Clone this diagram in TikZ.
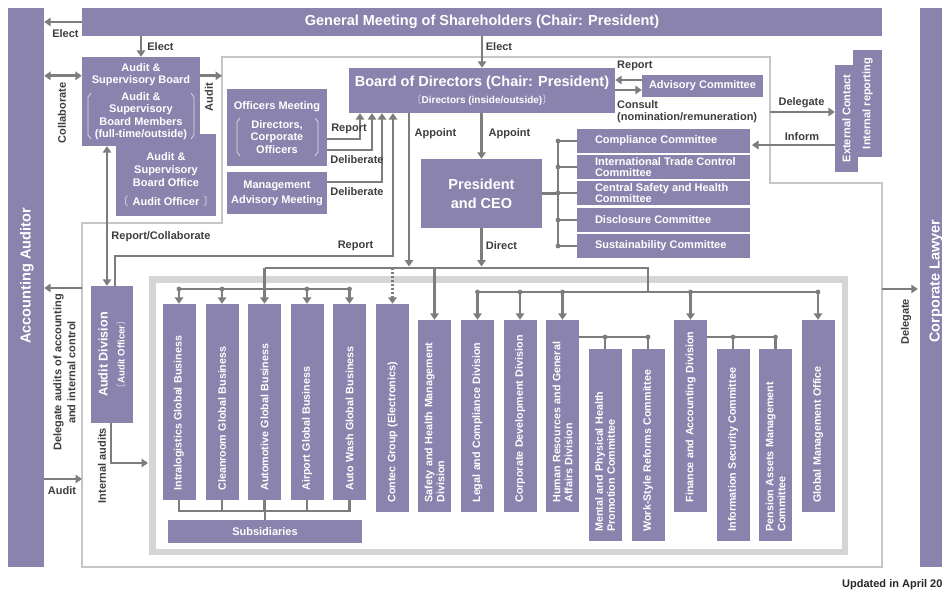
\documentclass[tikz,border=0pt]{standalone}
\usepackage{fontspec}
\setmainfont{Liberation Sans}
\newfontfamily\cjk{Noto Sans CJK JP}
\usepackage{tikz}
\usetikzlibrary{arrows.meta,positioning}

\definecolor{orgpurple}{RGB}{138,131,173}
\definecolor{lngray}{RGB}{125,125,125}
\definecolor{framegray}{RGB}{198,198,198}
\definecolor{bandgray}{RGB}{212,214,214}
\definecolor{lbltext}{RGB}{62,62,62}
\definecolor{brkwhite}{RGB}{224,221,236}

\newcommand{\hdfont}{\bfseries\fontsize{14.5}{16}\selectfont}
\newcommand{\obrk}{{\cjk\mdseries\color{brkwhite}〔}}
\newcommand{\cbrk}{{\cjk\mdseries\color{brkwhite}〕}}
% tall brackets round a block of lines: x left, x right, y top, y bottom
\newcommand{\tallbrk}[4]{%
  \draw[brk] (#1+3,#3) -- (#1,#3+4) -- (#1,#4-4) -- (#1+3,#4);
  \draw[brk] (#2-3,#3) -- (#2,#3+4) -- (#2,#4-4) -- (#2-3,#4);}

\tikzset{
  pbox/.style={fill=orgpurple,text=white,font=\bfseries\fontsize{11}{12.5}\selectfont,align=center,inner sep=0pt},
  vbox/.style={pbox,rotate=90,align=left,font=\bfseries\fontsize{10.7}{12}\selectfont,minimum height=33},
  conn/.style={draw=lngray,line width=2.7pt},
  arr/.style={conn,-{Triangle[length=6.5pt,width=8.5pt]}},
  darr/.style={conn,{Triangle[length=6.5pt,width=8.5pt]}-{Triangle[length=6.5pt,width=8.5pt]}},
  dotarr/.style={arr,line width=2.2pt,dash pattern=on 2pt off 2pt},
  lbl/.style={text=lbltext,font=\bfseries\fontsize{11}{12}\selectfont,align=center,inner sep=0pt},
  brk/.style={draw=brkwhite,line width=0.7pt},
  thinframe/.style={draw=framegray,line width=1.3pt},
  band/.style={draw=bandgray,line width=6.5pt},
}

\begin{document}
\begin{tikzpicture}[x=1pt,y=-1pt]
  \fill[white] (0,0) rectangle (942,591);
  \useasboundingbox (0,0) rectangle (942,591);

  % executive area and business band
  \coordinate (fa) at (222,57);  \coordinate (fb) at (770,57);
  \coordinate (fc) at (770,183); \coordinate (fd) at (882,183);
  \coordinate (fe) at (882,567); \coordinate (ff) at (82,567);
  \coordinate (fg) at (82,223);  \coordinate (fh) at (222,223);
  \draw[thinframe] (fa) -- (fb) -- (fc) -- (fd) -- (fe) -- (ff) -- (fg) -- (fh) -- cycle;
  \draw[band] (152.5,279.5) rectangle (845,552);

  % outside parties
  \node[pbox,minimum width=36,minimum height=559] (acct) at (26,287.5) {};
  \node[pbox,fill=none,rotate=90,font=\hdfont] (acct-t) at (27,276) {Accounting Auditor};
  \node[pbox,minimum width=40,minimum height=559] (lawyer) at (940,287.5) {};
  \node[pbox,fill=none,rotate=90,font=\hdfont] (lawyer-t) at (936,281) {Corporate Lawyer};
  \node[pbox,minimum width=800,minimum height=28,font=\hdfont] (gm) at (482,22)
    {General Meeting of Shareholders (Chair: President)};

  % audit & supervisory board
  \node[pbox,minimum width=100,minimum height=82] (asoffice) at (166,175) {};
  \node[pbox,minimum width=118,minimum height=89,font=\bfseries\fontsize{11}{12.3}\selectfont] (asb) at (141,101.5)
    {Audit \&\\Supervisory Board\\[4.5pt]Audit \&\\Supervisory\\Board Members\\(full-time/outside)};
  \tallbrk{88}{194}{93}{139}
  \node[pbox,fill=none,font=\bfseries\fontsize{11}{13}\selectfont] (asoffice-t) at (166,180)
    {Audit \&\\Supervisory\\Board Office\\[6pt]\obrk\hspace{4pt}Audit Officer\hspace{4pt}\cbrk};

  % meetings and board
  \node[pbox,minimum width=100,minimum height=77] (ofm) at (277,127.5)
    {Officers Meeting\\[6.5pt]Directors,\\Corporate\\Officers};
  \tallbrk{237}{318}{118}{156}
  \node[pbox,minimum width=100,minimum height=42] (mam) at (277,193) {Management\\[2.5pt]Advisory Meeting};
  \node[pbox,minimum width=266,minimum height=45,font=\hdfont] (board) at (482,90.5)
    {Board of Directors (Chair: President)\\[1pt]{\fontsize{10}{12}\selectfont\obrk Directors (inside/outside)\cbrk}};
  \node[pbox,minimum width=121,minimum height=22] (advc) at (702.5,86) {Advisory Committee};
  \node[pbox,minimum width=121,minimum height=69,font=\bfseries\fontsize{14.5}{19}\selectfont] (pres) at (481.5,193.5)
    {President\\and CEO};

  % committees under the president
  \foreach \nm/\yy/\txt in {compl/141/{Compliance Committee},
      trade/167/{International Trade Control\\Committee},
      safecom/193/{Central Safety and Health\\Committee},
      discl/220/{Disclosure Committee},
      sust/246/{Sustainability Committee}}{
    \node[pbox,minimum width=173,minimum height=24] (\nm) at (663.5,\yy) {};
    \node[pbox,fill=none,anchor=west,align=left,font=\bfseries\fontsize{11}{11}\selectfont]
      (\nm-t) at ([xshift=18pt]\nm.west) {\txt};
  }

  % whistleblowing desk
  \node[pbox,rotate=90,minimum width=107,minimum height=29] (intrep) at (867.5,103.5) {Internal reporting};
  \node[pbox,rotate=90,minimum width=107,minimum height=23] (extc) at (846.5,118.5) {External Contact};

  % audit division
  \node[pbox,rotate=90,minimum width=137,minimum height=42,font=\bfseries\fontsize{12.6}{17}\selectfont] (auditdiv) at (112,354.5)
    {Audit Division\\{\fontsize{9.6}{12}\selectfont\obrk Audit Officer\cbrk}};

  % businesses and divisions
  \foreach \nm/\xx/\yc/\len/\txt in {
      intra/179/402/196/{Intralogistics Global Business},
      clean/222/402/196/{Cleanroom Global Business},
      auto/264.5/402/196/{Automotive Global Business},
      airport/307/402/196/{Airport Global Business},
      autowash/349.5/402/196/{Auto Wash Global Business},
      contec/392.5/408/208/{Contec Group (Electronics)},
      safety/434.5/416/192/{Safety and Health Management\\Division},
      legal/477.5/416/192/{Legal and Compliance Division},
      corpdev/520/416/192/{Corporate Development Division},
      hr/562.5/416/192/{Human Resources and General\\Affairs Division},
      mental/605/445/192/{Mental and Physical Health\\Promotion Committee},
      workstyle/648/445/192/{Work-Style Reforms Committee},
      finance/690.5/416/192/{Finance and Accounting Division},
      infosec/733/445/192/{Information Security Committee},
      pension/775.5/445/192/{Pension Assets Management\\Committee},
      gmo/818/416/192/{Global Management Office}}{
    \pgfmathsetmacro{\tw}{\len-19}
    \node[vbox,minimum width=\len,text width=\tw pt] (\nm) at (\xx,\yc) {\txt};
  }
  \node[pbox,minimum width=194,minimum height=23] (subs) at (265,531.5) {Subsidiaries};

  % election and audit links
  \coordinate (asbin) at ([yshift=-19pt]asb.north west);
  \draw[arr] (gm.west) -- (gm.west -| acct.east);
  \draw[arr] (asb.north |- gm.south) -- (asb.north);
  \draw[arr] (board.north |- gm.south) -- (board.north);
  \draw[darr] (asbin -| acct.east) -- (asbin);
  \draw[arr] (asbin -| asb.east) -- (asbin -| fa);
  \draw[darr] ([xshift=-5pt]auditdiv.east) -- ([xshift=-5pt]auditdiv.east |- asb.south);

  % reporting into the board
  \coordinate (rptA) at (393,256);
  \draw[arr] ([yshift=-11.5pt]ofm.east) -| ([xshift=-122pt]board.south);
  \draw[arr] ([yshift=-22.5pt]ofm.east) -| ([xshift=-110pt]board.south);
  \draw[arr] ([yshift=11pt]mam.east) -| ([xshift=-100pt]board.south);
  \draw[arr] ([xshift=3pt]auditdiv.east) |- (rptA) -- (rptA |- board.south);
  \draw[arr] ([yshift=6pt]advc.west) -- ([yshift=6pt]advc.west -| board.east);
  \draw[arr] ([yshift=-4pt]advc.west -| board.east) -- ([yshift=-4pt]advc.west);

  % appointment and direction
  \coordinate (busA) at (264.5,268); \coordinate (busB) at (648,268);
  \coordinate (busC) at (477.5,292); \coordinate (busD) at (818,292);
  \coordinate (busE) at (179,289);
  \draw[arr] (pres.north |- board.south) -- (pres.north);
  \draw[arr,shorten >=1.5pt] ([xshift=-73pt]board.south) -- ([xshift=-73pt]board.south |- busA);
  \draw[arr,shorten >=1.5pt] (pres.south) -- (pres.south |- busA);
  \draw[conn] (busA) -- (busB) -- (busB |- busC);
  \draw[conn] (busC) -- (busD);
  \draw[conn] (intra.east |- busE) -- (autowash.east |- busE);
  \draw[arr] (busA) -- (auto.east);
  \draw[dotarr] (contec.east |- busA) -- (contec.east);
  \draw[arr] (safety.east |- busA) -- (safety.east);
  \foreach \nm in {intra,clean,airport,autowash}{
    \draw[arr] (\nm.east |- busE) -- (\nm.east);
    \fill[lngray] (\nm.east |- busE) circle (2.4pt);
  }
  \foreach \nm in {legal,corpdev,hr,finance,gmo}{
    \draw[arr] (\nm.east |- busC) -- (\nm.east);
    \fill[lngray] (\nm.east |- busC) circle (2.4pt);
  }

  % committees of the president
  \coordinate (cbus) at (558,193);
  \draw[conn] (pres.east) -- (pres.east -| cbus);
  \draw[conn] (cbus |- compl) -- (cbus |- sust);
  \foreach \nm in {compl,trade,safecom,discl,sust}{
    \draw[conn] (cbus |- \nm) -- (\nm.west);
    \fill[lngray] (cbus |- \nm) circle (2.4pt);
  }

  % committees of the divisions
  \coordinate (hrbus) at (648,337); \coordinate (finbus) at (775.5,337);
  \draw[conn] (hrbus -| hr.south) -- (hrbus) -- (workstyle.east);
  \draw[conn] (mental.east |- hrbus) -- (mental.east);
  \draw[conn] (finbus -| finance.south) -- (finbus) -- (pension.east);
  \draw[conn] (infosec.east |- finbus) -- (infosec.east);
  \foreach \pt in {mental.east |- hrbus, hrbus, infosec.east |- finbus, finbus}
    \fill[lngray] (\pt) circle (2.4pt);

  % subsidiaries
  \coordinate (subbus) at (264.5,511);
  \draw[conn] (intra.west) |- (autowash.west |- subbus) -- (autowash.west);
  \foreach \nm in {clean,auto,airport}
    \draw[conn] (\nm.west) -- (\nm.west |- subbus);
  \draw[conn] (subs.north |- subbus) -- (subs.north);

  % outside links
  \coordinate (dlgE) at (770,112); \coordinate (cmpin) at (750,145);
  \coordinate (dlgL) at (882,289); \coordinate (dlgA) at (82,288);
  \coordinate (audA) at (82,479);  \coordinate (iaud) at (148,463);
  \draw[arr] (dlgE) -- (dlgE -| extc.north);
  \draw[arr,shorten >=2pt] (cmpin -| extc.north) -- (cmpin);
  \draw[arr,shorten >=2pt] (dlgL) -- (dlgL -| lawyer.west);
  \draw[arr] (dlgA) -- (dlgA -| acct.east);
  \draw[arr] (audA -| acct.east) -- (audA);
  \draw[arr] ([xshift=-1pt]auditdiv.west) |- (iaud);

  % labels on the links
  \node[lbl] (electA) at (65.5,34) {Elect};
  \node[lbl] (electB) at (160.5,47) {Elect};
  \node[lbl] (electC) at (499,47) {Elect};
  \node[lbl,rotate=90] (collabL) at (62,113) {Collaborate};
  \node[lbl,rotate=90] (auditL) at (209,97) {Audit};
  \node[lbl] (rptO) at (349,129) {Report};
  \node[lbl] (dlbO) at (357,160) {Deliberate};
  \node[lbl] (dlbM) at (357,192) {Deliberate};
  \node[lbl] (rptD) at (355.5,246) {Report};
  \node[lbl] (rcL) at (161,237) {Report/Collaborate};
  \node[lbl] (appL) at (435.5,134) {Appoint};
  \node[lbl] (appP) at (509.5,134) {Appoint};
  \node[lbl] (dirL) at (501.5,246) {Direct};
  \node[lbl,anchor=west] (rptV) at (617,66) {Report};
  \node[lbl,anchor=west,align=left] (cnsL) at (617,112) {Consult\\(nomination/remuneration)};
  \node[lbl] (dlgEL) at (801.5,103) {Delegate};
  \node[lbl] (infL) at (802,137) {Inform};
  \node[lbl,rotate=90] (dlgLL) at (906,322) {Delegate};
  \node[lbl,rotate=90,font=\bfseries\fontsize{11}{14}\selectfont] (dlgAL) at (64.5,372.5)
    {Delegate audits of accounting\\and internal control};
  \node[lbl] (audL) at (62,491) {Audit};
  \node[lbl,rotate=90] (iaL) at (102,465.5) {Internal audits};
  \node[lbl,anchor=west,text=black!85] (upd) at (842,585) {Updated in April 20};
\end{tikzpicture}
\end{document}
